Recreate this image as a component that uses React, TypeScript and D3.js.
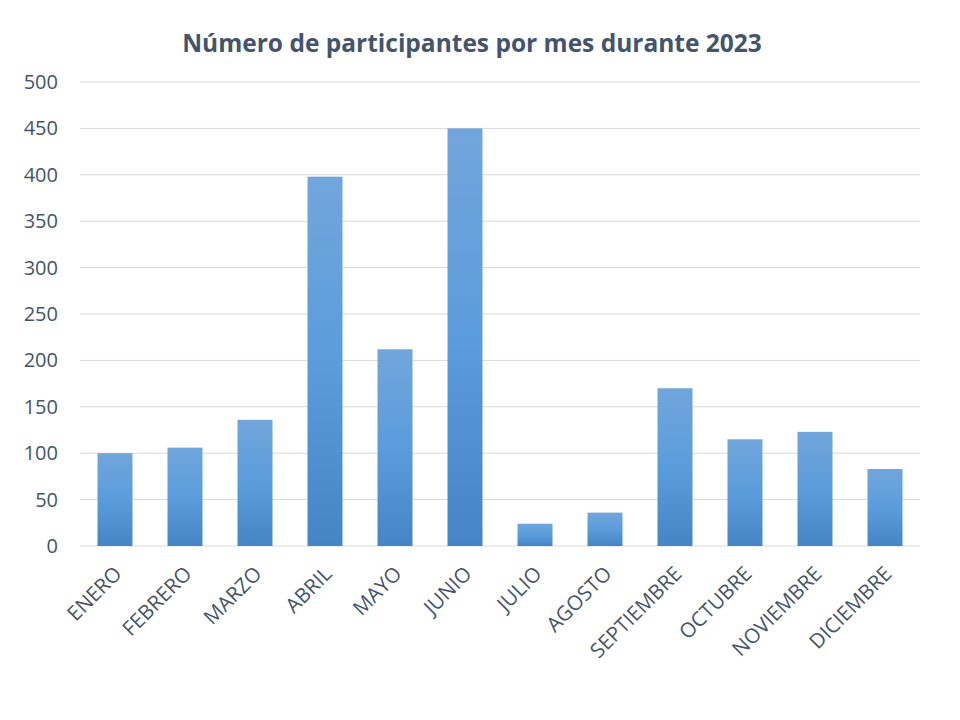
import * as d3 from "d3";

const months = [
  "ENERO",
  "FEBRERO",
  "MARZO",
  "ABRIL",
  "MAYO",
  "JUNIO",
  "JULIO",
  "AGOSTO",
  "SEPTIEMBRE",
  "OCTUBRE",
  "NOVIEMBRE",
  "DICIEMBRE",
];
const participants = [100, 106, 136, 398, 212, 450, 24, 36, 170, 115, 123, 83];
const yTicks = [0, 50, 100, 150, 200, 250, 300, 350, 400, 450, 500];

const width = 960;
const height = 720;
const marginLeft = 80;
const marginRight = 40;
const marginTop = 82;
const plotBottom = 546;
const textColor = "#44546A";
const font = "'Open Sans', 'Liberation Sans', sans-serif";

export default function App() {
  const x = d3
    .scaleBand()
    .domain(months)
    .range([marginLeft, width - marginRight])
    .paddingInner(0.5)
    .paddingOuter(0.25);

  const y = d3.scaleLinear().domain([0, 500]).range([plotBottom, marginTop]);

  return (
    <svg
      width={width}
      height={height}
      style={{ position: "absolute", left: 0, top: 0, background: "#fff" }}
    >
      <defs>
        <linearGradient id="barGrad" x1="0" y1="0" x2="0" y2="1">
          <stop offset="0%" stopColor="#71A6DB" />
          <stop offset="50%" stopColor="#5B9CDC" />
          <stop offset="100%" stopColor="#4585C6" />
        </linearGradient>
      </defs>
      <text
        x={472}
        y={52}
        textAnchor="middle"
        fontFamily={font}
        fontWeight="bold"
        fontSize={24.5}
        fill={textColor}
      >
        Número de participantes por mes durante 2023
      </text>
      <g>
        {yTicks.map((t) => (
          <g key={t}>
            <line
              x1={marginLeft}
              x2={width - marginRight}
              y1={y(t)}
              y2={y(t)}
              stroke="#D9D9D9"
              strokeWidth={1}
            />
            <text
              x={58}
              y={y(t)}
              dy="0.35em"
              textAnchor="end"
              fontFamily={font}
              fontSize={20}
              fill={textColor}
            >
              {t}
            </text>
          </g>
        ))}
      </g>
      <g>
        {participants.map((v, i) => (
          <rect
            key={months[i]}
            x={x(months[i])}
            y={y(v)}
            width={x.bandwidth()}
            height={y(0) - y(v)}
            fill="url(#barGrad)"
          />
        ))}
      </g>
      <g>
        {months.map((m) => {
          const cx = (x(m) ?? 0) + x.bandwidth() / 2 + 3;
          const cy = plotBottom + 24;
          return (
            <text
              key={m}
              transform={`translate(${cx},${cy}) rotate(-45)`}
              textAnchor="end"
              dy="0.35em"
              fontFamily={font}
              fontSize={20.5}
              fill={textColor}
            >
              {m}
            </text>
          );
        })}
      </g>
    </svg>
  );
}
